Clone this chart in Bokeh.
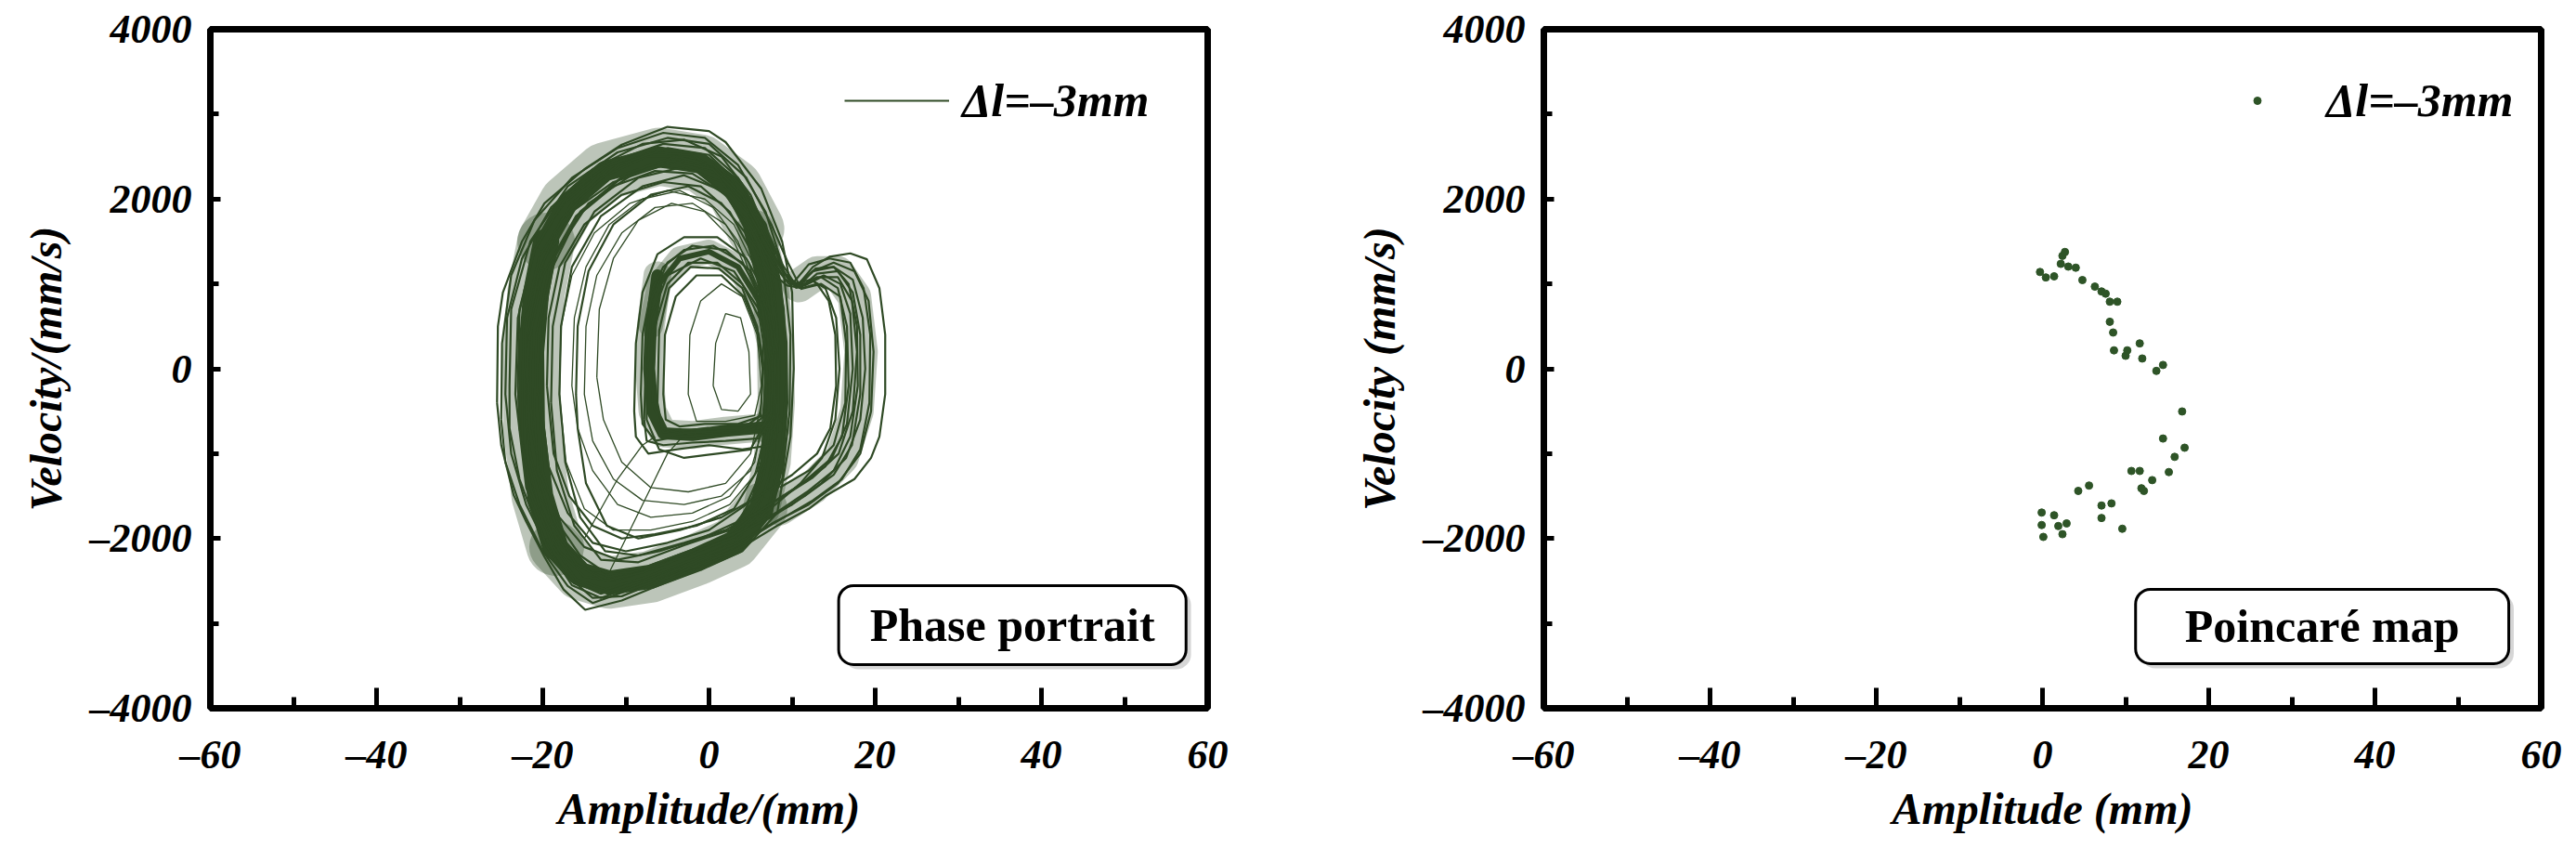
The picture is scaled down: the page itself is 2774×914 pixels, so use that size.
from bokeh.plotting import figure
from bokeh.layouts import row
from bokeh.models import FixedTicker, BoxAnnotation, Label
from bokeh.embed import file_html
from bokeh.resources import INLINE

# ---------------- axes / labels ----------------
x_ticks = [-60, -40, -20, 0, 20, 40, 60]
x_minor = [-50, -30, -10, 10, 30, 50]
x_tick_labels = ["–60", "–40", "–20", "0", "20", "40", "60"]
y_ticks = [-4000, -2000, 0, 2000, 4000]
y_minor = [-3000, -1000, 1000, 3000]
y_tick_labels = ["–4000", "–2000", "0", "2000", "4000"]
series_label = "Δl=–3mm"

# ---------------- phase portrait: loops (mm, mm/s) ----------------
loop_a1 = [(-25.5, -400), (-25.4, 500), (-24.8, 900), (-22.5, 1500), (-19.8, 1950), (-15, 2350), (-10.5, 2640),
           (-5, 2850), (0, 2800), (2, 2670), (6.3, 2120), (8.8, 1500), (10, 900), (10.2, 0), (9.8, -800),
           (8.2, -1700), (4, -2150), (-1, -2360), (-6, -2550), (-10.5, -2730), (-14.9, -2840), (-17.5, -2600),
           (-19.8, -2216), (-22, -1800), (-23.5, -1490), (-25, -900), (-25.5, -400)]
loop_a2 = [(-24.5, -300), (-24.3, 600), (-22.5, 1300), (-19, 1900), (-14, 2350), (-8, 2650), (-3, 2700),
           (1.5, 2500), (5, 2050), (7.8, 1400), (9, 700), (9.3, -100), (8.8, -900), (7.2, -1600), (3, -2050),
           (-2, -2250), (-8, -2500), (-13, -2650), (-16.5, -2500), (-19.5, -2100), (-22, -1600), (-23.8, -1000),
           (-24.5, -300)]
loop_a3 = [(-23, -200), (-22.8, 700), (-21, 1400), (-17.5, 1950), (-12.5, 2350), (-7, 2550), (-2, 2520),
           (2.5, 2250), (5.8, 1700), (7.8, 1000), (8.5, 200), (8.3, -700), (7, -1400), (3.5, -1950),
           (-1.5, -2150), (-7, -2350), (-12, -2450), (-16, -2300), (-19, -1900), (-21.5, -1350), (-22.8, -700),
           (-23, -200)]
loop_a4 = [(-21.5, -300), (-21.3, 600), (-19.8, 1300), (-16.5, 1850), (-11.5, 2200), (-6, 2380), (-1.5, 2330),
           (2.5, 2000), (5.5, 1500), (7.2, 900), (7.8, 100), (7.6, -700), (6.5, -1300), (3.5, -1800), (-1, -2000),
           (-6, -2150), (-11, -2250), (-15, -2100), (-18, -1750), (-20.3, -1250), (-21.3, -700), (-21.5, -300)]
loop_a5 = [(-19.5, -200), (-19.3, 600), (-18, 1200), (-15, 1700), (-10.5, 2050), (-5.5, 2200), (-1, 2150),
           (2.5, 1850), (5, 1400), (6.7, 800), (7.3, 100), (7, -600), (5.8, -1200), (3, -1650), (-1.5, -1850),
           (-6.5, -1950), (-10.5, -2000), (-14, -1850), (-16.8, -1500), (-18.7, -1000), (-19.5, -200)]
loop_a6 = [(-16.5, -200), (-16.2, 600), (-14.8, 1200), (-12, 1700), (-8, 2000), (-3.5, 2100), (0.5, 1900),
           (3.5, 1500), (5.8, 900), (6.8, 200), (6.6, -500), (5.5, -1100), (2.5, -1500), (-2, -1700),
           (-7, -1750), (-11, -1600), (-14, -1200), (-15.8, -700), (-16.5, -200)]
loop_a7 = [(-13.5, -100), (-13.2, 700), (-11.5, 1300), (-8.5, 1750), (-4.5, 1950), (-0.5, 1850), (3, 1500),
           (5.5, 950), (6.5, 300), (6.3, -400), (5, -1000), (2, -1350), (-2.5, -1450), (-7, -1400),
           (-10.5, -1100), (-12.7, -600), (-13.5, -100)]
loop_a8 = [(-25, -600), (-24.9, 300), (-23.8, 1100), (-21, 1750), (-16.5, 2250), (-11, 2600), (-5.5, 2780),
           (-0.5, 2720), (3.5, 2400), (6.8, 1850), (8.9, 1200), (9.8, 400), (9.7, -500), (8.8, -1300),
           (6, -1900), (1, -2250), (-5, -2450), (-10, -2620), (-14, -2760), (-17, -2560), (-20, -2150),
           (-22.8, -1600), (-24.5, -1100), (-25, -600)]
loop_a9 = [(-22, -500), (-21.9, 400), (-20.6, 1100), (-17.8, 1750), (-13, 2250), (-7.5, 2500), (-2.5, 2500),
           (1.5, 2300), (4.8, 1850), (7.2, 1200), (8.2, 500), (8.3, -300), (7.8, -1100), (5.8, -1700),
           (1.5, -2050), (-4, -2250), (-9.5, -2400), (-14, -2380), (-17.5, -2050), (-20, -1550), (-21.5, -1000),
           (-22, -500)]
loop_a10 = [(-20.2, -400), (-20, 500), (-18.8, 1200), (-15.8, 1800), (-11.5, 2150), (-6.5, 2330), (-2, 2300),
            (2, 2050), (5, 1600), (7, 1000), (7.7, 300), (7.5, -500), (6.8, -1100), (4.5, -1600), (0, -1900),
            (-5, -2050), (-10, -2150), (-14, -2050), (-17, -1700), (-19.3, -1150), (-20.2, -400)]
loop_a11 = [(-18, -300), (-17.8, 500), (-16.5, 1100), (-13.8, 1600), (-9.5, 1950), (-5, 2100), (-0.5, 2000),
            (3, 1700), (5.5, 1200), (6.9, 600), (7.2, -100), (6.9, -700), (5.5, -1250), (2.5, -1600),
            (-2, -1800), (-7, -1900), (-11.5, -1900), (-15, -1650), (-17.2, -1100), (-18, -300)]
loop_a12 = [(-15, -300), (-14.8, 500), (-13.5, 1100), (-10.5, 1600), (-6.5, 1900), (-2, 1950), (2, 1700),
            (4.8, 1250), (6.3, 700), (6.8, 0), (6.5, -700), (5, -1200), (1.5, -1500), (-3, -1600), (-8, -1550),
            (-11.5, -1300), (-14, -850), (-15, -300)]
loop_b1 = [(-24, -200), (-23.8, 700), (-21.5, 1500), (-17, 2150), (-11, 2550), (-5, 2720), (0, 2650),
           (4.5, 2250), (7.5, 1700), (9.5, 1250), (10.8, 1000), (12.5, 1200), (14.5, 1320), (17, 1360),
           (19, 1290), (20.5, 950), (21.2, 400), (21.2, -300), (20.5, -800), (19.5, -1050), (17.5, -1300),
           (14, -1500), (12, -1650), (8.2, -1850), (4, -2100), (-1, -2300), (-6, -2500), (-10.5, -2680),
           (-14, -2700), (-17.5, -2400), (-20.5, -1900), (-22.8, -1300), (-24, -700), (-24, -200)]
loop_b2 = [(-22.5, -400), (-22.3, 500), (-20.5, 1300), (-16.5, 1950), (-11, 2400), (-5, 2600), (0, 2520),
           (4, 2150), (7, 1600), (9, 1150), (10.5, 950), (12.5, 1150), (15, 1250), (17.5, 1150), (19.2, 800),
           (19.8, 200), (19.5, -500), (18.2, -1000), (15.5, -1350), (12, -1600), (8, -1800), (3.5, -2050),
           (-2, -2250), (-7.5, -2450), (-12.5, -2600), (-16, -2480), (-19, -2050), (-21.3, -1450),
           (-22.5, -900), (-22.5, -400)]
loop_b3 = [(-20.5, -300), (-20.2, 600), (-18.5, 1350), (-14.5, 1950), (-9, 2300), (-3.5, 2450), (1, 2300),
           (4.5, 1900), (7.3, 1350), (9.2, 1050), (11, 950), (13, 1120), (15.5, 1150), (17.3, 900),
           (18.2, 400), (18.2, -300), (17.2, -900), (15, -1250), (11.5, -1500), (7.5, -1750), (3, -1950),
           (-2.5, -2150), (-8, -2350), (-12.5, -2400), (-15.5, -2200), (-18.3, -1800), (-20, -1200),
           (-20.5, -300)]
loop_b4 = [(-18, -300), (-17.8, 500), (-16.5, 1200), (-13, 1800), (-8, 2150), (-3, 2280), (1.5, 2100),
           (5, 1700), (7.6, 1250), (9.6, 1000), (11.5, 980), (13.5, 1080), (15.5, 950), (16.6, 500),
           (16.8, -200), (16, -800), (14, -1150), (10.5, -1400), (6.5, -1650), (2, -1900), (-3, -2050),
           (-8.5, -2200), (-12.5, -2150), (-15.5, -1750), (-17.3, -1100), (-18, -300)]
loop_b5 = [(-22, -600), (-21.7, 300), (-20, 1100), (-16, 1800), (-10.5, 2250), (-4.5, 2450), (0.5, 2350),
           (4.5, 1950), (7.5, 1400), (9.3, 1100), (10.5, 1000), (12.2, 1050), (14, 950), (15.3, 600),
           (15.7, 0), (15.2, -600), (13.6, -1050), (11, -1350), (8, -1600), (4, -1900), (-1, -2100),
           (-6.5, -2350), (-11.5, -2500), (-15, -2450), (-18, -2150), (-20.5, -1600), (-21.7, -1100),
           (-22, -600)]
loop_b6 = [(-23.3, -300), (-23, 600), (-21, 1400), (-17, 2050), (-11.5, 2450), (-5.5, 2650), (-0.5, 2600),
           (3.5, 2250), (6.5, 1750), (8.7, 1250), (10.2, 1020), (12, 1230), (14.5, 1300), (17, 1250),
           (18.6, 950), (19.4, 400), (19.3, -400), (18.2, -950), (16, -1300), (12.5, -1550), (8.5, -1780),
           (3.5, -2080), (-2, -2300), (-8, -2520), (-13, -2700), (-16.5, -2550), (-19.5, -2100), (-22, -1400),
           (-23.3, -300)]
loop_b7 = [(-21, -500), (-20.8, 400), (-19.2, 1200), (-15.5, 1850), (-10, 2300), (-4, 2500), (0.5, 2400),
           (4, 2050), (7, 1500), (9, 1120), (10.8, 980), (12.8, 1180), (15, 1200), (16.8, 1000), (17.8, 500),
           (17.9, -200), (17, -800), (15, -1200), (11.8, -1450), (8, -1700), (3, -1980), (-2.5, -2200),
           (-8, -2400), (-12.5, -2500), (-16, -2300), (-19, -1800), (-20.6, -1200), (-21, -500)]
loop_b8 = [(-19, -400), (-18.8, 500), (-17.3, 1250), (-13.8, 1850), (-8.5, 2250), (-3, 2380), (1.5, 2200),
           (5, 1800), (7.8, 1300), (9.8, 1020), (11.8, 1000), (13.8, 1100), (15.8, 1000), (17, 650), (17.3, 0),
           (16.6, -650), (14.8, -1050), (11.2, -1350), (7, -1620), (2.5, -1900), (-3, -2080), (-8.5, -2280),
           (-13, -2250), (-16.2, -1850), (-18.3, -1200), (-19, -400)]
loop_b9 = [(-16, -300), (-15.8, 500), (-14.5, 1150), (-11.5, 1700), (-7, 2050), (-2.5, 2150), (1.5, 1950),
           (4.8, 1550), (7.3, 1150), (9.4, 980), (11.2, 950), (13, 1000), (14.4, 800), (15.2, 400),
           (15.3, -200), (14.6, -700), (13, -1000), (10, -1250), (6, -1500), (1.5, -1750), (-3.5, -1900),
           (-8.5, -2000), (-12.3, -1850), (-14.8, -1350), (-15.8, -700), (-16, -300)]
loop_c1 = [(-8.2, -300), (-8, 400), (-7, 900), (-5.5, 1200), (-3, 1400), (0.5, 1450), (4, 1250), (6.5, 800),
           (7.8, 200), (8, -400), (7.5, -700), (4, -760), (0, -780), (-4, -800), (-6.5, -850), (-8, -650),
           (-8.2, -300)]
loop_c2 = [(-7.5, -200), (-7, 600), (-5, 1100), (-1, 1300), (3, 1150), (6, 700), (7.3, 0), (7.5, -500),
           (5, -950), (1, -1000), (-3, -1050), (-6, -950), (-7.5, -600), (-7.5, -200)]
loop_c3 = [(-6.8, -400), (-6.5, 500), (-5, 1000), (-2.5, 1250), (1, 1250), (4, 1000), (6.3, 550), (7.3, 0),
           (7.2, -500), (5, -700), (1, -700), (-3, -720), (-5.5, -750), (-6.8, -400)]
loop_c4 = [(-5.5, -300), (-5.3, 400), (-4, 850), (-1.5, 1100), (1.5, 1100), (4.2, 850), (6, 400), (6.8, -100),
           (6.5, -550), (3.5, -650), (-0.5, -650), (-3.5, -680), (-5.2, -600), (-5.5, -300)]
loop_c5 = [(-9, -500), (-8.8, 300), (-8, 900), (-6.2, 1350), (-3, 1550), (1, 1550), (4.5, 1300), (7, 850),
           (8.3, 200), (8.4, -500), (7.5, -900), (4, -950), (0, -900), (-4, -950), (-7.3, -1000), (-8.8, -800),
           (-9, -500)]
loop_c6 = [(-6.2, -400), (-6, 450), (-4.8, 950), (-2.2, 1200), (1.2, 1180), (4, 950), (5.8, 500), (6.5, -50),
           (6.2, -550), (3.8, -720), (0, -740), (-3.5, -760), (-5.6, -700), (-6.2, -400)]
loop_c7 = [(-7.8, -600), (-7.6, 200), (-7, 800), (-5, 1250), (-2, 1450), (2, 1400), (5, 1150), (7.2, 650),
           (8, 0), (7.8, -550), (6, -820), (2, -850), (-2, -870), (-5.5, -900), (-7.5, -850), (-7.8, -600)]
loop_d1 = [(-2.5, -300), (-2.3, 400), (-1, 800), (1.5, 1000), (4, 850), (5.8, 400), (6.3, -200), (5.5, -550),
           (2, -620), (-1.5, -620), (-2.5, -300)]
loop_d2 = [(0.5, -200), (0.8, 300), (2, 650), (3.8, 600), (4.8, 200), (5, -300), (3.5, -500), (1.5, -480),
           (0.5, -200)]
path_e1 = [(-12, -2400), (-9, -1800), (-7, -1400), (-5, -1000), (-3, -780), (1, -720), (5, -700), (7.8, -600)]
path_e2 = [(-15, -2000), (-11, -1300), (-8, -900), (-6.5, -800)]
path_l1 = [(10.5, 980), (12.5, 1150), (15, 1200), (17.3, 1050), (18.5, 600), (18.8, 0), (18.2, -600),
           (16.5, -1050), (13.5, -1350), (10, -1600), (7, -1750)]
path_l2 = [(10.8, 960), (13, 1080), (15.5, 1080), (17.2, 800), (17.8, 200), (17.3, -500), (15.6, -1000),
           (12.5, -1280), (9, -1500), (6.5, -1650)]
path_l3 = [(11, 940), (13.5, 1000), (15.8, 850), (16.5, 300), (16.4, -400), (15, -900), (12, -1200),
           (8.5, -1400)]

outer_loops = [loop_a1, loop_a2, loop_a3, loop_a4, loop_a5, loop_a8, loop_a9, loop_a10,
               loop_b1, loop_b2, loop_b3, loop_b4, loop_b5, loop_b6, loop_b7, loop_b8, loop_b9,
               loop_c1, loop_c2, loop_c3, loop_c4, loop_c5, loop_c6, loop_c7,
               path_l1, path_l2, path_l3]
hollow_loops = [loop_a6, loop_a7, loop_a11, loop_a12, loop_d1, loop_d2, path_e1, path_e2]

# dense bands of the attractor (centre lines)
band_left = [(-18.5, -2100), (-20.3, -1500), (-21.3, -700), (-21.4, 200), (-20.8, 900), (-19.6, 1500)]
band_top = [(-19.6, 1500), (-17, 1950), (-12.5, 2330), (-6, 2500), (-1, 2420), (3, 2130), (5.6, 1650)]
band_right = [(5.6, 1650), (7.3, 1000), (8, 300), (8.1, -400), (7.6, -1100), (6.3, -1650)]
band_bottom = [(6.3, -1650), (3, -2050), (-1.5, -2250), (-7, -2450), (-12, -2520), (-15.5, -2420), (-18.5, -2100)]
band_inner = [(-6.2, 1100), (-7, 500), (-7.2, 0), (-6.8, -500), (-5.5, -760), (-2, -780), (2, -730),
              (5.5, -700), (8.2, -680)]
band_inner_top = [(-7, 500), (-6, 1000), (-3.5, 1300), (0, 1380), (3.5, 1200), (6, 800), (7.5, 200)]
band_lobe = [(10.8, 980), (13, 1130), (15.5, 1130), (17.5, 850), (18.3, 200), (17.8, -500), (16, -1050),
             (12.5, -1400), (8.5, -1650)]
core_bands = [(band_left, 28), (band_top, 22), (band_right, 26), (band_bottom, 26), (band_inner, 13),
              (band_inner_top, 6)]
halo_bands = [(band_left, 62), (band_top, 62), (band_right, 40), (band_bottom, 56), (band_inner, 30),
              (band_inner_top, 26), (band_lobe, 36)]

# ---------------- Poincaré map points (mm, mm/s) ----------------
poinc_x = [-0.3, 0.4, 1.4, 2.4, 2.7, 2.2, 3.1, 4.0, 4.8, 6.3, 7.1, 7.6, 8.1, 9.0, 8.1, 8.5, 8.6, 10.0, 10.2,
           11.7, 12.0, 13.7, 14.5,
           16.8, 14.5, 17.1, 15.9, 15.2, 10.7, 11.7, 13.2, 11.9, 12.2, 4.3, 5.6, 8.3, 7.1, 7.1, 9.6,
           -0.1, -0.1, 0.1, 1.4, 1.9, 2.4, 2.9]
poinc_y = [1140, 1076, 1089, 1331, 1376, 1236, 1204, 1191, 1045, 968, 911, 885, 790, 790, 554, 427, 217, 153,
           217, 299, 121, -25, 45,
           -503, -822, -930, -1038, -1217, -1204, -1204, -1312, -1408, -1439, -1439, -1376, -1586, -1611,
           -1758, -1885, -1694, -1841, -1981, -1726, -1853, -1949, -1822]

TRAJ_COLOR = "#2f4a25"
DOT_COLOR = "#2e5427"
FONT = "Liberation Serif"


def style(p, xlabel, ylabel):
    p.grid.visible = False
    p.outline_line_color = "black"
    p.outline_line_width = 7
    p.outline_line_alpha = 1.0
    p.background_fill_color = "white"
    p.border_fill_color = "white"
    p.xaxis.ticker = FixedTicker(ticks=x_ticks, minor_ticks=x_minor)
    p.yaxis.ticker = FixedTicker(ticks=y_ticks, minor_ticks=y_minor)
    p.xaxis.major_label_overrides = {float(t): s for t, s in zip(x_ticks, x_tick_labels)}
    p.yaxis.major_label_overrides = {float(t): s for t, s in zip(y_ticks, y_tick_labels)}
    for ax in (p.xaxis[0], p.yaxis[0]):
        ax.axis_line_color = None
        ax.major_tick_out = 0
        ax.minor_tick_out = 0
        ax.major_tick_line_width = 5
        ax.minor_tick_line_width = 5
        ax.major_tick_line_color = "black"
        ax.minor_tick_line_color = "black"
        ax.major_label_text_font = FONT
        ax.major_label_text_font_style = "bold italic"
        ax.major_label_text_font_size = "44px"
        ax.major_label_text_color = "black"
        ax.axis_label_text_font = FONT
        ax.axis_label_text_font_style = "bold italic"
        ax.axis_label_text_font_size = "48px"
        ax.axis_label_text_color = "black"
    p.xaxis.major_tick_in = 22
    p.xaxis.minor_tick_in = 12
    p.yaxis.major_tick_in = 11
    p.yaxis.minor_tick_in = 9
    p.xaxis.major_label_standoff = 25
    p.yaxis.major_label_standoff = 20
    p.xaxis.axis_label_standoff = 4
    p.yaxis.axis_label_standoff = 18
    p.xaxis.axis_label = xlabel
    p.yaxis.axis_label = ylabel


def style_legend(p, loc):
    lg = p.legend[0]
    lg.location = loc
    lg.padding = 0
    lg.margin = 0
    lg.spacing = 0
    lg.border_line_color = None
    lg.background_fill_alpha = 0
    lg.glyph_width = 113
    lg.glyph_height = 20
    lg.label_text_font = FONT
    lg.label_text_font_style = "bold italic"
    lg.label_text_font_size = "50px"
    lg.label_text_color = "black"


def add_tag(p, text, left, right, top, bottom, dx, dy):
    shadow = BoxAnnotation(left=left + dx, right=right + dx, top=top - dy, bottom=bottom - dy,
                           fill_color="#b5b5b5", fill_alpha=0.55, line_color=None, border_radius=16)
    box = BoxAnnotation(left=left, right=right, top=top, bottom=bottom, fill_color="white", fill_alpha=1.0,
                        line_color="black", line_width=3, line_alpha=1.0, border_radius=16)
    p.add_layout(shadow)
    p.add_layout(box)
    p.add_layout(Label(x=(left + right) / 2, y=(top + bottom) / 2, text=text, text_font=FONT,
                       text_font_style="bold", text_font_size="50px", text_color="black",
                       text_align="center", text_baseline="middle"))


def xs_of(loops):
    return [[q[0] for q in lp] for lp in loops]


def ys_of(loops):
    return [[q[1] for q in lp] for lp in loops]


common = dict(x_range=(-60, 60), y_range=(-4000, 4000), output_backend="svg", toolbar_location=None,
              frame_width=1074, frame_height=731, min_border_top=31, min_border_bottom=140)

# ---------------- left: phase portrait ----------------
p1 = figure(min_border_left=226, min_border_right=86, **common)
for pts, w in halo_bands:
    p1.line([q[0] for q in pts], [q[1] for q in pts], line_color=TRAJ_COLOR, line_width=w, line_alpha=0.32,
            line_join="round", line_cap="round")
for pts, w in core_bands:
    p1.line([q[0] for q in pts], [q[1] for q in pts], line_color=TRAJ_COLOR, line_width=w,
            line_join="round", line_cap="round")
p1.multi_line(xs_of(hollow_loops), ys_of(hollow_loops), line_color=TRAJ_COLOR, line_width=1.3)
p1.multi_line(xs_of(outer_loops), ys_of(outer_loops), line_color=TRAJ_COLOR, line_width=2.2,
              legend_label=series_label)
style(p1, "Amplitude/(mm)", "Velocity/(mm/s)")
style_legend(p1, (683, 625))
p1.legend[0].label_standoff = 14
add_tag(p1, "Phase portrait", 15.6, 57.4, -2555, -3485, 0.6, 55)

# ---------------- right: Poincaré map ----------------
p2 = figure(min_border_left=276, min_border_right=26, **common)
p2.scatter(poinc_x, poinc_y, size=8, marker="circle", fill_color=DOT_COLOR, line_color=DOT_COLOR,
           legend_label=series_label)
style(p2, "Amplitude (mm)", "Velocity (mm/s)")
style_legend(p2, (712, 625))
p2.legend[0].label_standoff = 18
add_tag(p2, "Poincaré map", 11.2, 56.1, -2598, -3474, 0.6, 55)

layout = row(p1, p2, spacing=0)
open("out.html", "w").write(file_html(layout, INLINE))
